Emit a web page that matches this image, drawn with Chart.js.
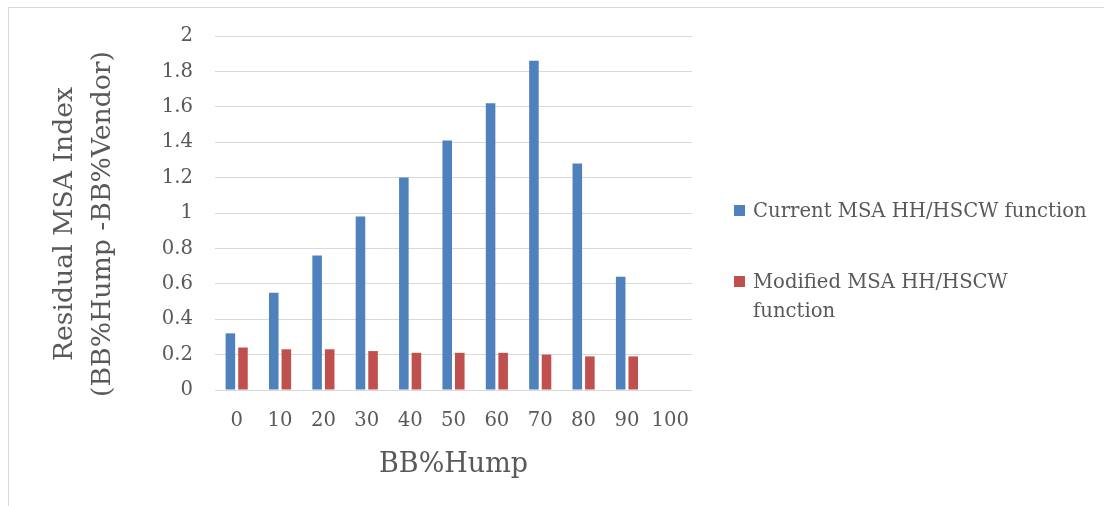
<!DOCTYPE html>
<html>
<head>
<meta charset="utf-8">
<script src="https://cdn.jsdelivr.net/npm/chart.js@4.4.1/dist/chart.umd.min.js"></script>
<style>
  html, body { margin: 0; padding: 0; background: #ffffff; overflow: hidden; }
  #wrap { position: relative; width: 1104px; height: 506px; }
  #frame { position: absolute; left: 8px; top: 7px; width: 1200px; height: 600px;
           border-left: 1px solid #d9d9d9; border-top: 1px solid #d9d9d9; pointer-events: none; }
  canvas { position: absolute; left: 0; top: 0; }
</style>
</head>
<body>
<div id="wrap">
  <canvas id="c" width="1104" height="506"></canvas>
  <div id="frame"></div>
</div>
<script>
// ---- data ----
const categories = ['0', '10', '20', '30', '40', '50', '60', '70', '80', '90', '100'];
const currentMSA = [0.32, 0.55, 0.76, 0.98, 1.20, 1.41, 1.62, 1.86, 1.28, 0.64, null];
const modifiedMSA = [0.24, 0.23, 0.23, 0.22, 0.21, 0.21, 0.21, 0.20, 0.19, 0.19, null];
const yTickLabels = ['0', '0.2', '0.4', '0.6', '0.8', '1', '1.2', '1.4', '1.6', '1.8', '2'];
const seriesNames = ['Current MSA HH/HSCW function', 'Modified MSA HH/HSCW function'];
const legendLines = [['Current MSA HH/HSCW function'], ['Modified MSA HH/HSCW', 'function']];
const yTitleLines = ['Residual MSA Index', '(BB%Hump -BB%Vendor)'];
const xTitle = 'BB%Hump';

// ---- styling ----
const FAMILY = "'DejaVu Serif'";
const TEXT = '#595959';
const GRID = '#d9d9d9';
const BLUE = '#4f81bd';
const RED = '#c0504d';

function fitSize(text, target) {
  const ctx = document.createElement('canvas').getContext('2d');
  ctx.font = '100px ' + FAMILY;
  return 100 * target / ctx.measureText(text).width;
}
const tickSize = fitSize('100', 37.5);
const legendSize = fitSize('Current MSA HH/HSCW function', 334);
const yTitleSize = (fitSize(yTitleLines[0], 267) + fitSize(yTitleLines[1], 355)) / 2;
const xTitleSize = fitSize(xTitle, 149);

const decorPlugin = {
  id: 'decor',
  afterDraw(chart) {
    const ctx = chart.ctx;
    const area = chart.chartArea;
    ctx.save();
    ctx.fillStyle = TEXT;
    // y title (rotated, two lines)
    ctx.font = yTitleSize.toFixed(2) + 'px ' + FAMILY;
    ctx.textAlign = 'center';
    ctx.textBaseline = 'alphabetic';
    const baseX = [72, 110];
    yTitleLines.forEach((line, i) => {
      ctx.save();
      ctx.translate(baseX[i], 224);
      ctx.rotate(-Math.PI / 2);
      ctx.fillText(line, 0, 0);
      ctx.restore();
    });
    // x title
    ctx.font = xTitleSize.toFixed(2) + 'px ' + FAMILY;
    ctx.textAlign = 'center';
    ctx.fillText(xTitle, (area.left + area.right) / 2, 472);
    // legend
    ctx.font = legendSize.toFixed(2) + 'px ' + FAMILY;
    ctx.textAlign = 'left';
    const baselines = [[217], [288, 316.5]];
    chart.data.datasets.forEach((ds, i) => {
      const b0 = baselines[i][0];
      ctx.fillStyle = ds.backgroundColor;
      ctx.fillRect(734, b0 - 12, 11, 11);
      ctx.fillStyle = TEXT;
      legendLines[i].forEach((line, j) => ctx.fillText(line, 753, baselines[i][j]));
    });
    ctx.restore();
  }
};

new Chart(document.getElementById('c'), {
  type: 'bar',
  data: {
    labels: categories,
    datasets: [
      { label: seriesNames[0], data: currentMSA, backgroundColor: BLUE,
        barPercentage: 0.76, categoryPercentage: 0.58 },
      { label: seriesNames[1], data: modifiedMSA, backgroundColor: RED,
        barPercentage: 0.76, categoryPercentage: 0.58 }
    ]
  },
  options: {
    responsive: false,
    animation: false,
    devicePixelRatio: 1,
    layout: { padding: { left: 0, top: 36, right: 412, bottom: 0 } },
    plugins: { legend: { display: false }, tooltip: { enabled: false }, title: { display: false } },
    scales: {
      x: {
        grid: { display: false, drawTicks: false },
        border: { display: false },
        ticks: { color: TEXT, font: { family: FAMILY, size: tickSize }, padding: 19, maxRotation: 0, autoSkip: false },
        afterFit(scale) { scale.height = 116; }
      },
      y: {
        min: 0, max: 2,
        grid: { color: GRID, lineWidth: 1, drawTicks: false },
        border: { display: false },
        ticks: {
          stepSize: 0.2, color: TEXT, padding: 22,
          font: { family: FAMILY, size: tickSize },
          callback: (v, i) => yTickLabels[i]
        },
        afterFit(scale) { scale.width = 215; }
      }
    }
  },
  plugins: [decorPlugin]
});
</script>
</body>
</html>
